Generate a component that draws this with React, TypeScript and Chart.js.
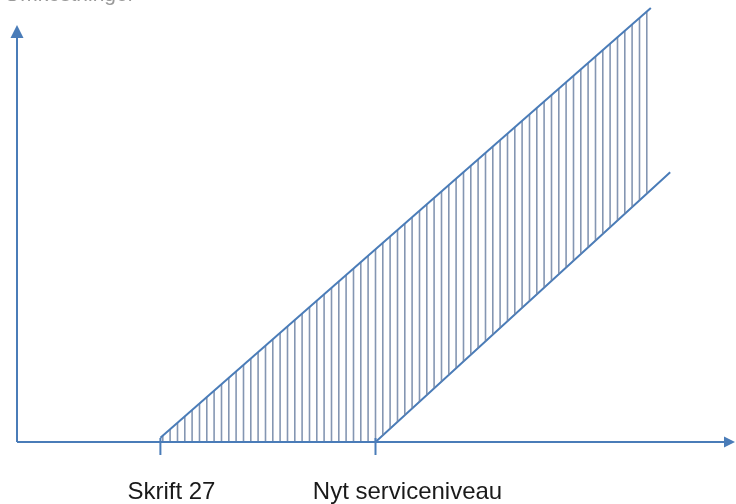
import React, { useEffect, useRef } from "react";
import { Chart, registerables } from "chart.js";

Chart.register(...registerables);

// ---- data ----
const axisTitle = "Omkostninger";
const categoryLabels = ["Skrift 27", "Nyt serviceniveau"];
const categoryPositions = [20, 50];
const upperLine = [
  { x: 20, y: 1 },
  { x: 88.4, y: 104.1 },
];
const lowerLine = [
  { x: 20, y: 0 },
  { x: 50, y: 0 },
  { x: 91.1, y: 64.7 },
];
const xAxisEnd = 100;
const yAxisEnd = 100;

// ---- style ----
const LINE_COLOR = "#4a7cb8";
const HATCH_COLOR = "rgba(110,132,165,0.85)";
const TEXT_COLOR = "#1a1a1a";
const LABEL_FONT = "24px 'Liberation Sans', Arial, sans-serif";
const labelOffsets = [11, 32];

export default function App() {
  const ref = useRef<HTMLCanvasElement | null>(null);

  useEffect(() => {
    const canvas = ref.current;
    if (!canvas) return;
    const ctx = canvas.getContext("2d")!;

    const pc = document.createElement("canvas");
    pc.width = 22;
    pc.height = 4;
    const pctx = pc.getContext("2d")!;
    pctx.strokeStyle = HATCH_COLOR;
    pctx.lineWidth = 1.6;
    [1.5, 8.8, 16.1].forEach((x) => {
      pctx.beginPath();
      pctx.moveTo(x, 0);
      pctx.lineTo(x, 4);
      pctx.stroke();
    });
    const pattern = ctx.createPattern(pc, "repeat");

    const axesPlugin = {
      id: "axesPlugin",
      afterDatasetsDraw(chart: any) {
        const c = chart.ctx;
        const xs = chart.scales.x;
        const ys = chart.scales.y;
        const x0 = xs.getPixelForValue(0);
        const y0 = ys.getPixelForValue(0);
        const xEnd = xs.getPixelForValue(xAxisEnd);
        const yEnd = ys.getPixelForValue(yAxisEnd);
        c.save();
        c.strokeStyle = LINE_COLOR;
        c.fillStyle = LINE_COLOR;
        c.lineWidth = 2;
        // y axis
        c.beginPath();
        c.moveTo(x0, y0);
        c.lineTo(x0, yEnd + 10);
        c.stroke();
        c.beginPath();
        c.moveTo(x0, yEnd);
        c.lineTo(x0 - 6.5, yEnd + 13);
        c.lineTo(x0 + 6.5, yEnd + 13);
        c.closePath();
        c.fill();
        // x axis
        c.beginPath();
        c.moveTo(x0, y0);
        c.lineTo(xEnd - 8, y0);
        c.stroke();
        c.beginPath();
        c.moveTo(xEnd + 1, y0);
        c.lineTo(xEnd - 10, y0 - 5.5);
        c.lineTo(xEnd - 10, y0 + 5.5);
        c.closePath();
        c.fill();
        // ticks + labels
        c.font = LABEL_FONT;
        c.textAlign = "center";
        c.textBaseline = "alphabetic";
        categoryPositions.forEach((v, i) => {
          const px = xs.getPixelForValue(v);
          c.strokeStyle = LINE_COLOR;
          c.beginPath();
          c.moveTo(px, y0 - 4);
          c.lineTo(px, y0 + 13);
          c.stroke();
          c.fillStyle = TEXT_COLOR;
          c.fillText(categoryLabels[i], px + labelOffsets[i], y0 + 57);
        });
        // clipped axis title at top (only its lowest edge is visible)
        c.font = "21px 'Liberation Sans', Arial, sans-serif";
        c.textAlign = "left";
        c.textBaseline = "alphabetic";
        c.fillStyle = "#999";
        c.fillText(axisTitle, 4, 0.5);
        c.restore();
      },
    };

    const chart = new Chart(canvas, {
      type: "line",
      data: {
        datasets: [
          {
            data: upperLine,
            borderColor: LINE_COLOR,
            borderWidth: 2,
            pointRadius: 0,
            tension: 0,
            fill: "+1",
            backgroundColor: pattern as any,
            clip: false as any,
          },
          {
            data: lowerLine,
            borderColor: LINE_COLOR,
            borderWidth: 2,
            pointRadius: 0,
            tension: 0,
            fill: false,
            clip: false as any,
          },
        ],
      },
      options: {
        animation: false,
        responsive: false,
        devicePixelRatio: 1,
        layout: { padding: { left: 17, right: 2, top: 0, bottom: 62 } },
        plugins: {
          legend: { display: false },
          tooltip: { enabled: false },
        },
        scales: {
          x: { type: "linear", min: 0, max: 100, display: false },
          y: { type: "linear", min: 0, max: 106, display: false },
        },
      },
      plugins: [axesPlugin],
    });

    return () => chart.destroy();
  }, []);

  return (
    <div style={{ position: "fixed", left: 0, top: 0, width: 736, height: 504, background: "#fff" }}>
      <canvas ref={ref} width={736} height={504} style={{ width: 736, height: 504, display: "block" }} />
    </div>
  );
}
